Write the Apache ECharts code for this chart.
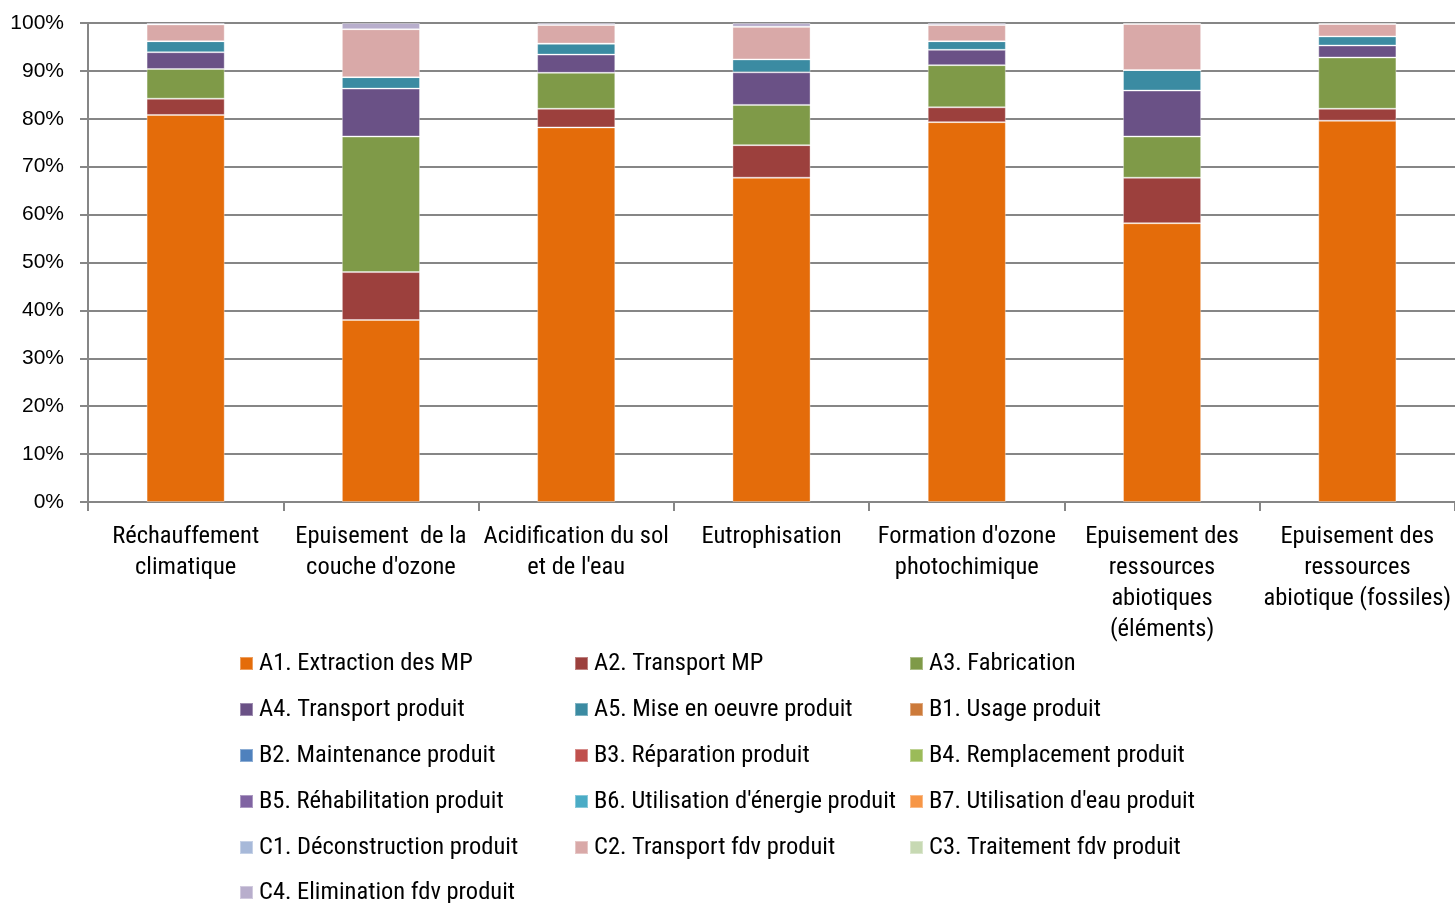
<!DOCTYPE html>
<html><head><meta charset="utf-8">
<script src="https://cdn.jsdelivr.net/npm/echarts@6/dist/echarts.min.js"></script>
<style>html,body{margin:0;padding:0;background:#fff;}#c{width:1455px;height:903px;}</style>
</head><body><div id="c"></div>
<script>
const categories = ["Réchauffement\nclimatique", "Epuisement  de la\ncouche d'ozone", "Acidification du sol\net de l'eau", "Eutrophisation", "Formation d'ozone\nphotochimique", "Epuisement des\nressources\nabiotiques\n(éléments)", "Epuisement des\nressources\nabiotique (fossiles)"];
const A1 = [80.8, 38.0, 78.2, 67.7, 79.3, 58.2, 79.6];
const A2 = [3.4, 10.0, 3.9, 6.8, 3.1, 9.5, 2.5];
const A3 = [6.2, 28.3, 7.5, 8.4, 8.8, 8.6, 10.7];
const A4 = [3.5, 10.0, 3.8, 6.8, 3.2, 9.6, 2.5];
const A5 = [2.3, 2.4, 2.3, 2.7, 1.8, 4.3, 1.9];
const B1 = [0, 0, 0, 0, 0, 0, 0];
const B2 = [0, 0, 0, 0, 0, 0, 0];
const B3 = [0, 0, 0, 0, 0, 0, 0];
const B4 = [0, 0, 0, 0, 0, 0, 0];
const B5 = [0, 0, 0, 0, 0, 0, 0];
const B6 = [0, 0, 0, 0, 0, 0, 0];
const B7 = [0, 0, 0, 0, 0, 0, 0];
const C1 = [0, 0, 0, 0, 0, 0, 0];
const C2 = [3.5, 10.0, 3.9, 6.8, 3.4, 9.6, 2.6];
const C3 = [0, 0, 0, 0, 0, 0, 0];
const C4 = [0.3, 1.3, 0.4, 0.8, 0.4, 0.2, 0.2];
const yTicks = [0, 10, 20, 30, 40, 50, 60, 70, 80, 90, 100];

const seriesDefs = [
  ["A1. Extraction des MP", A1, "#E46C0A"],
  ["A2. Transport MP", A2, "#9C403D"],
  ["A3. Fabrication", A3, "#7F9A48"],
  ["A4. Transport produit", A4, "#6A5186"],
  ["A5. Mise en oeuvre produit", A5, "#3B8BA2"],
  ["B1. Usage produit", B1, "#CC7A3A"],
  ["B2. Maintenance produit", B2, "#4F81BD"],
  ["B3. Réparation produit", B3, "#C0504D"],
  ["B4. Remplacement produit", B4, "#9BBB59"],
  ["B5. Réhabilitation produit", B5, "#8064A2"],
  ["B6. Utilisation d'énergie produit", B6, "#4BACC6"],
  ["B7. Utilisation d'eau produit", B7, "#F79646"],
  ["C1. Déconstruction produit", C1, "#A7B9D9"],
  ["C2. Transport fdv produit", C2, "#D9A9A8"],
  ["C3. Traitement fdv produit", C3, "#C7D9B3"],
  ["C4. Elimination fdv produit", C4, "#B8AECC"]
];
const FONT = "'Liberation Sans Narrow', 'Arial Narrow', 'Roboto Condensed', 'Liberation Sans', sans-serif";
const YFONT = "'Liberation Sans', Arial, sans-serif";
const names = seriesDefs.map(s => s[0]);
const col1 = [0,3,6,9,12].map(i => names[i]);
const col1b = [15].map(i => names[i]);
const col2 = [1,4,7,10,13].map(i => names[i]);
const col3 = [2,5,8,11,14].map(i => names[i]);
function legendCol(data, left, top) {
  return {
    data: data, orient: 'vertical', left: left, top: top, itemGap: 19,
    itemWidth: 13, itemHeight: 13, icon: 'rect', selectedMode: false,
    textStyle: { fontFamily: FONT, fontSize: 24.5, color: '#000', padding: [0,0,0,1], lineHeight: 27 }
  };
}
const chart = echarts.init(document.getElementById('c'));
chart.setOption({
  animation: false,
  textStyle: { fontFamily: FONT },
  grid: { left: 88, right: 0, top: 23, bottom: 401, containLabel: false },
  legend: [legendCol(col1, 234, 645), legendCol(col1b, 234, 874), legendCol(col2, 569, 645), legendCol(col3, 904, 645)],
  xAxis: {
    type: 'category', data: categories,
    axisLine: { lineStyle: { color: '#868686', width: 2 } },
    axisTick: { show: true, length: 9, interval: 0, lineStyle: { color: '#868686', width: 2 } },
    axisLabel: { interval: 0, fontFamily: FONT, fontSize: 24.5, color: '#000', lineHeight: 31, margin: 19 }
  },
  yAxis: {
    type: 'value', min: 0, max: 100, interval: 10,
    axisLine: { show: true, lineStyle: { color: '#868686', width: 2 } },
    axisTick: { show: true, length: 8, lineStyle: { color: '#868686', width: 2 } },
    splitLine: { show: true, lineStyle: { color: '#868686', width: 2 } },
    axisLabel: {
      fontFamily: YFONT, fontSize: 21, color: '#000', margin: 24,
      formatter: v => yTicks.indexOf(v) >= 0 ? v + '%' : ''
    }
  },
  series: seriesDefs.map(s => ({
    name: s[0], type: 'bar', stack: 'total', data: s[1], barWidth: '40%',
    itemStyle: { color: s[2], borderColor: 'rgba(255,255,255,0.35)', borderWidth: 1 }
  }))
});
</script></body></html>
